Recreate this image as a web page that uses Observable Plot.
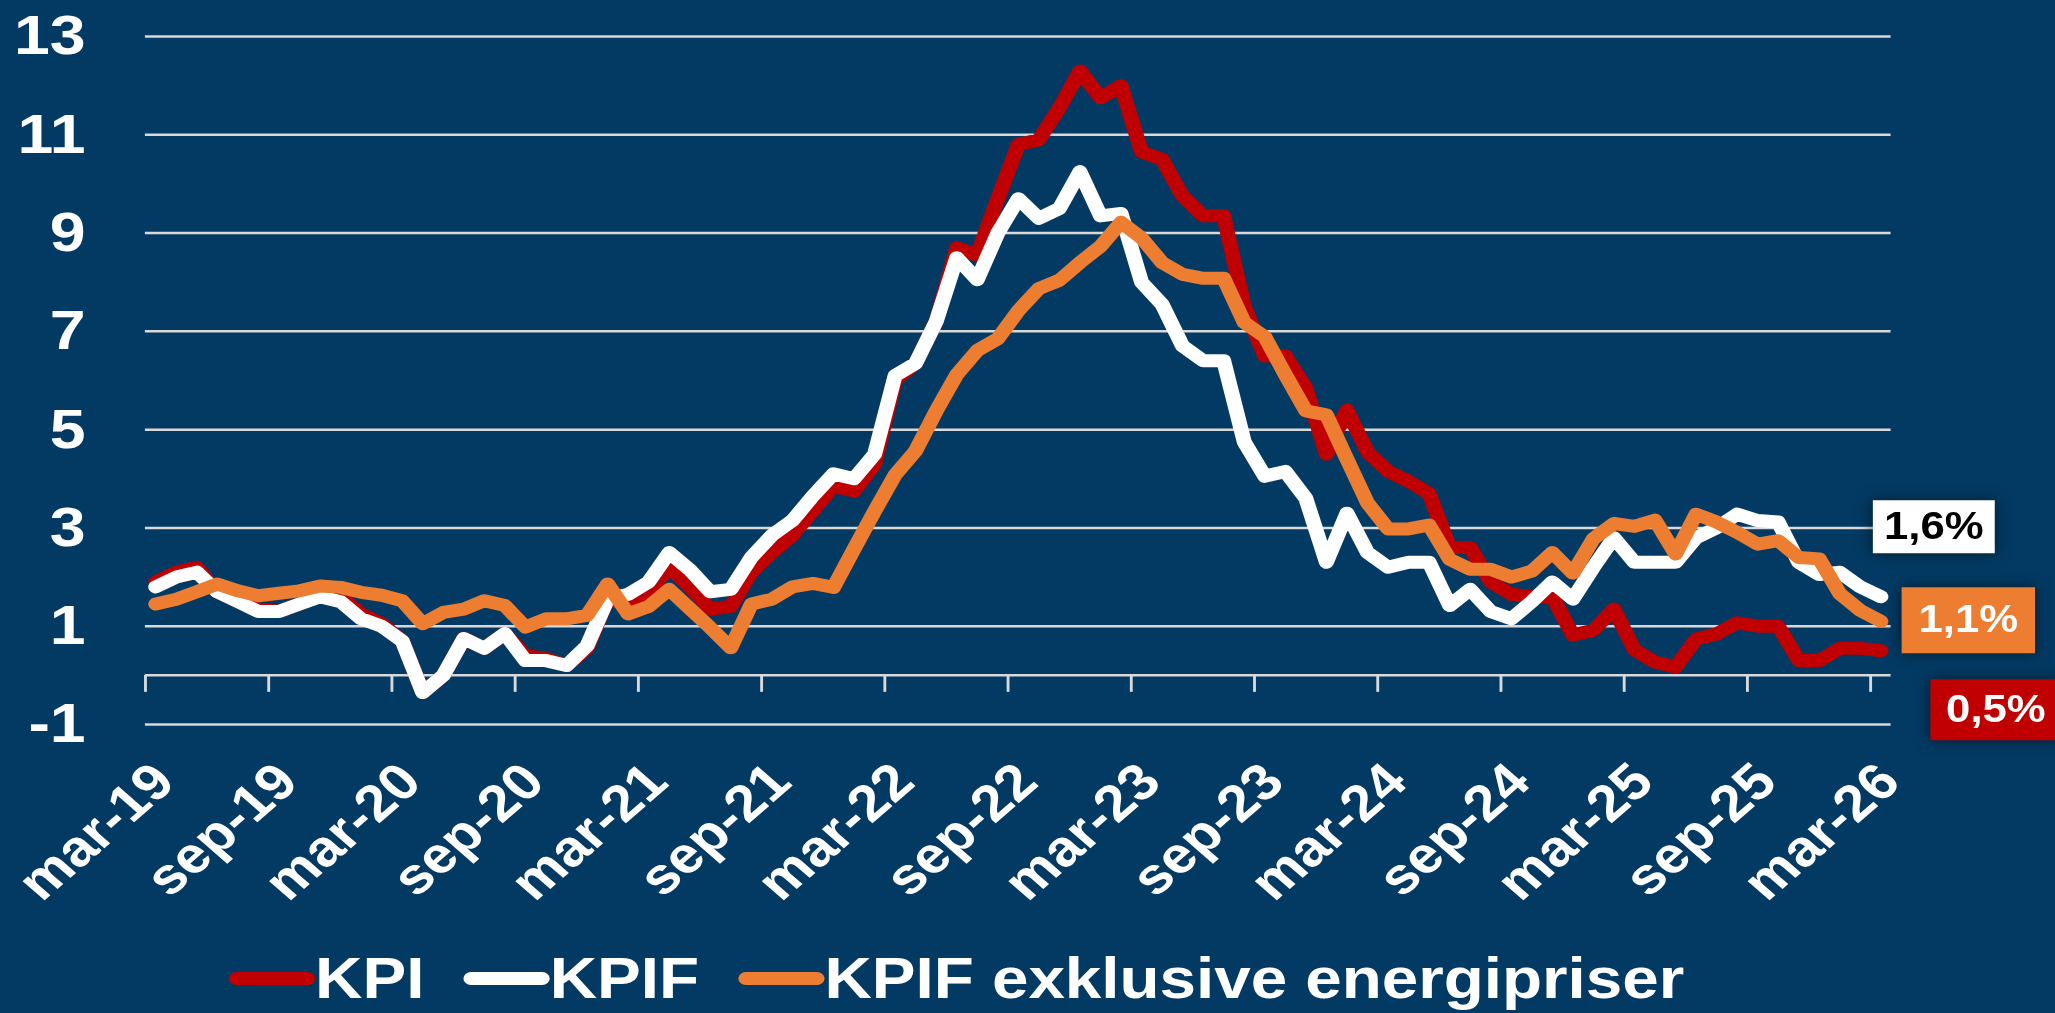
<!DOCTYPE html>
<html>
<head>
<meta charset="utf-8">
<script src="https://cdn.jsdelivr.net/npm/d3@7"></script>
<script src="https://cdn.jsdelivr.net/npm/@observablehq/plot@0.6"></script>
<style>
  html, body { margin: 0; padding: 0; background: #033a63; }
  #page { position: relative; width: 2055px; height: 1013px; overflow: hidden; background: #033a63; }
  #chart { position: absolute; left: 0; top: 0; width: 1787px; height: 1013px; transform: scaleX(1.15); transform-origin: 0 0; }
  #legend { position: absolute; left: 199px; top: 950px; display: flex; align-items: center;
            font: bold 57px "Liberation Sans", Arial, sans-serif; color: #fff; line-height: 1; white-space: nowrap; }
  #legend .item { display: flex; align-items: center; margin-right: 34px; }
  #legend .sw { width: 75px; height: 13px; border-radius: 6.5px; }
  g[aria-label="dot"] path { filter: drop-shadow(0 0 7px rgba(0,0,0,0.55)); }
</style>
</head>
<body>
<div id="page"><div id="chart"></div></div>
<script>
// ---- data ----
const months = [
  "mar-19","apr-19","maj-19","jun-19","jul-19","aug-19","sep-19","okt-19","nov-19","dec-19",
  "jan-20","feb-20","mar-20","apr-20","maj-20","jun-20","jul-20","aug-20","sep-20","okt-20","nov-20","dec-20",
  "jan-21","feb-21","mar-21","apr-21","maj-21","jun-21","jul-21","aug-21","sep-21","okt-21","nov-21","dec-21",
  "jan-22","feb-22","mar-22","apr-22","maj-22","jun-22","jul-22","aug-22","sep-22","okt-22","nov-22","dec-22",
  "jan-23","feb-23","mar-23","apr-23","maj-23","jun-23","jul-23","aug-23","sep-23","okt-23","nov-23","dec-23",
  "jan-24","feb-24","mar-24","apr-24","maj-24","jun-24","jul-24","aug-24","sep-24","okt-24","nov-24","dec-24",
  "jan-25","feb-25","mar-25","apr-25","maj-25","jun-25","jul-25","aug-25","sep-25","okt-25","nov-25","dec-25",
  "jan-26","feb-26","mar-26"
];
const tickLabels = ["mar-19","sep-19","mar-20","sep-20","mar-21","sep-21","mar-22","sep-22",
                    "mar-23","sep-23","mar-24","sep-24","mar-25","sep-25","mar-26"];
const yTicks = [-1, 1, 3, 5, 7, 9, 11, 13];

const kpi = [
  1.9,2.1,2.2,1.7,1.5,1.35,1.3,1.45,1.7,1.6,
  1.25,1.05,0.7,-0.35,0.0,0.75,0.55,0.85,0.4,0.35,
  0.2,0.55,1.55,1.45,1.7,2.2,1.8,1.35,1.4,2.1,
  2.5,2.85,3.35,3.85,3.75,4.3,6.0,6.35,7.2,8.7,
  8.55,9.7,10.8,10.9,11.55,12.3,11.75,12.0,10.65,10.5,
  9.75,9.35,9.35,7.5,6.5,6.5,5.85,4.5,5.4,4.55,
  4.15,3.95,3.7,2.6,2.6,1.9,1.65,1.6,1.6,0.82,
  0.92,1.35,0.52,0.27,0.17,0.74,0.84,1.07,1.0,1.0,
  0.3,0.3,0.55,0.55,0.5
];
const kpif = [
  1.8,2.0,2.1,1.7,1.5,1.3,1.3,1.45,1.6,1.5,
  1.15,1.0,0.7,-0.35,0.0,0.75,0.55,0.85,0.3,0.3,
  0.2,0.6,1.55,1.65,1.9,2.5,2.15,1.7,1.75,2.4,
  2.85,3.15,3.65,4.1,4.0,4.5,6.1,6.35,7.2,8.5,
  8.05,9.0,9.7,9.3,9.5,10.25,9.35,9.4,8.0,7.55,
  6.7,6.4,6.4,4.75,4.05,4.15,3.6,2.3,3.3,2.5,
  2.2,2.3,2.3,1.42,1.75,1.3,1.15,1.5,1.9,1.55,
  2.2,2.8,2.3,2.3,2.3,2.8,3.0,3.28,3.15,3.12,
  2.3,2.05,2.1,1.8,1.6
];
const kpifExEnergi = [
  1.45,1.55,1.7,1.86,1.72,1.62,1.67,1.72,1.82,1.79,
  1.69,1.63,1.52,1.05,1.28,1.35,1.52,1.42,0.98,1.15,
  1.15,1.22,1.86,1.25,1.4,1.75,1.36,0.97,0.56,1.45,
  1.55,1.8,1.87,1.79,2.57,3.34,4.08,4.57,5.38,6.12,
  6.61,6.85,7.42,7.87,8.04,8.4,8.73,9.22,8.9,8.4,
  8.16,8.08,8.08,7.18,6.89,6.12,5.38,5.3,4.4,3.51,
  2.98,2.98,3.06,2.36,2.16,2.16,2.0,2.12,2.5,2.08,
  2.78,3.09,3.03,3.16,2.47,3.28,3.12,2.91,2.67,2.74,
  2.4,2.37,1.66,1.32,1.1
];
const seriesNames = ["KPI", "KPIF", "KPIF exklusive energipriser"];

// ---- styling ----
const RED = "#c00000", WHITE = "#ffffff", ORANGE = "#ed7d31", GRID = "#d9d9d9";
const FONT = '"Liberation Sans", Arial, Helvetica, sans-serif';
const W = 1787, H = 935;
const M = {top: 36, bottom: H - 724, left: 126, right: W - 1644};
const yDomain = [-1, 13];
const TICK_PX = 17;
const tickLen = TICK_PX * (yDomain[1] - yDomain[0]) / (H - M.top - M.bottom);

const rows = months.map((m, i) => ({x: i + 0.5, month: m, kpi: kpi[i], kpif: kpif[i], ex: kpifExEnergi[i]}));
const tickIdx = tickLabels.map(l => months.indexOf(l));
const last = rows[rows.length - 1];
const fmt = v => v.toFixed(1).replace(".", ",") + "%";

const rectSymbol = (w, h) => ({draw(ctx) { ctx.rect(-w / 2, -h / 2, w, h); }});
const endLabels = [
  {key: "kpif", box: WHITE, ink: "#000", w: 106, h: 53, dx: 46, dy: -70},
  {key: "ex",   box: ORANGE, ink: "#fff", w: 116, h: 66, dx: 76, dy: -1},
  {key: "kpi",  box: RED,   ink: "#fff", w: 114, h: 61, dx: 100, dy: 59}
];

const lineOpts = {x: "x", strokeWidth: 13, strokeLinejoin: "round", strokeLinecap: "round"};

const svg = Plot.plot({
  width: W, height: H,
  marginTop: M.top, marginBottom: M.bottom, marginLeft: M.left, marginRight: M.right,
  style: {background: "transparent", color: "#fff", fontFamily: FONT, fontSize: "56px", fontWeight: "bold"},
  x: {domain: [0, months.length], axis: null},
  y: {domain: yDomain, ticks: yTicks, tickSize: 0, tickPadding: 52, tickFormat: d => String(d), label: null},
  marks: [
    Plot.ruleY(yTicks, {stroke: GRID, strokeWidth: 2.5}),
    Plot.ruleY([0], {stroke: GRID, strokeWidth: 2.5}),
    Plot.ruleX(tickIdx, {x: d => d, y1: 0, y2: -tickLen, stroke: GRID, strokeWidth: 2.5}),
    Plot.text(tickIdx, {x: d => d, frameAnchor: "bottom", text: d => months[d], rotate: -45,
      textAnchor: "end", dx: 28, dy: 60, fill: "#fff", fontSize: 51, fontWeight: "bold"}),
    Plot.line(rows, {...lineOpts, y: "kpi", stroke: RED}),
    Plot.line(rows, {...lineOpts, y: "kpif", stroke: WHITE}),
    Plot.line(rows, {...lineOpts, y: "ex", stroke: ORANGE}),
    ...endLabels.map(l => Plot.dot([last], {x: "x", y: l.key, symbol: rectSymbol(l.w, l.h),
      fill: l.box, stroke: null, dx: l.dx, dy: l.dy})),
    ...endLabels.map(l => Plot.text([last], {x: "x", y: l.key, text: d => fmt(d[l.key]),
      fill: l.ink, dx: l.dx, dy: l.dy, fontSize: 38, fontWeight: "bold"}))
  ]
});
const chart = document.getElementById("chart");
chart.appendChild(svg);

// legend
const legend = document.createElement("div");
legend.id = "legend";
[RED, WHITE, ORANGE].forEach((c, i) => {
  const item = document.createElement("div");
  item.className = "item";
  const sw = document.createElement("span");
  sw.className = "sw";
  sw.style.background = c;
  const t = document.createElement("span");
  t.textContent = seriesNames[i];
  item.appendChild(sw); item.appendChild(t);
  legend.appendChild(item);
});
chart.appendChild(legend);
</script>
</body>
</html>
